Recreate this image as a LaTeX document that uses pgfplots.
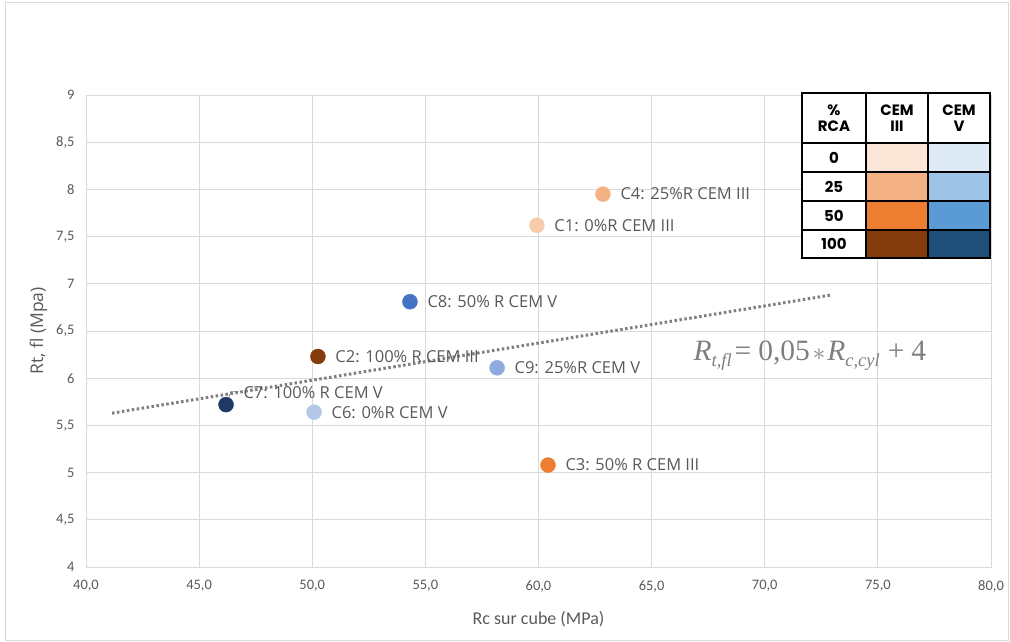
\documentclass[border=0pt]{standalone}
\usepackage{pgfplots}
\pgfplotsset{compat=1.18}
\usepackage{fontspec}
\setmainfont{Open Sans}
\newfontfamily\carlito{Carlito}
\newfontfamily\poppins{Poppins}
\newfontfamily\formfont{Liberation Serif}
\definecolor{txtgray}{HTML}{595959}
\definecolor{gridgray}{HTML}{D9D9D9}
\definecolor{trendgray}{HTML}{7F7F7F}
\definecolor{oA}{HTML}{F8CBAD}
\definecolor{oB}{HTML}{F4B183}
\definecolor{oC}{HTML}{ED7D31}
\definecolor{oD}{HTML}{843C0C}
\definecolor{bA}{HTML}{B4C7E7}
\definecolor{bB}{HTML}{8FAADC}
\definecolor{bC}{HTML}{4472C4}
\definecolor{bD}{HTML}{203864}
\definecolor{tA}{HTML}{FBE5D6}
\definecolor{tB}{HTML}{F4B183}
\definecolor{tC}{HTML}{ED7D31}
\definecolor{tD}{HTML}{843C0C}
\definecolor{uA}{HTML}{DEEBF7}
\definecolor{uB}{HTML}{9DC3E6}
\definecolor{uC}{HTML}{5B9BD5}
\definecolor{uD}{HTML}{1F4E79}
\newcommand{\labfont}{\fontsize{16.5}{16.5}\selectfont}
\newcommand{\sub}[1]{\raisebox{-0.22em}{\fontsize{18.5}{18.5}\selectfont\itshape #1}}
\pgfplotsset{
  pt/.style n args={2}{only marks, mark=*, mark size=7.5pt, color=#1,
    mark options={draw=none, fill=#1},
    nodes near coords={#2},
    every node near coord/.style={anchor=west, xshift=14pt, text=txtgray, font=\labfont}},
}
\begin{document}
\begin{tikzpicture}
\useasboundingbox (-86pt,-74pt) rectangle (924pt,567pt);
\draw[gridgray, line width=0.8pt] (-80.5pt,-73pt) rectangle (922.5pt,565pt);
\begin{axis}[
  at={(0pt,0pt)}, anchor=south west,
  scale only axis, width=905pt, height=472pt,
  xmin=40, xmax=80, ymin=4, ymax=9,
  xtick={40,45,...,80}, ytick={4,4.5,...,9},
  grid=major, major grid style={gridgray, line width=0.8pt},
  axis line style={gridgray, line width=0.8pt},
  major tick length=0pt,
  /pgf/number format/assume math mode=true,
  xticklabel style={/pgf/number format/fixed, /pgf/number format/fixed zerofill, /pgf/number format/precision=1, /pgf/number format/use comma, yshift=-10pt},
  yticklabel style={/pgf/number format/fixed, /pgf/number format/precision=1, /pgf/number format/use comma, xshift=-8pt},
  tick label style={font=\carlito\fontsize{14.5}{14.5}\selectfont, text=txtgray},
  xlabel={\carlito\fontsize{18}{18}\selectfont Rc sur cube (MPa)},
  ylabel={\fontsize{17.5}{17.5}\selectfont Rt, fl (Mpa)},
  xlabel style={text=txtgray, yshift=-12pt},
  ylabel style={text=txtgray, yshift=2pt},
  clip=false,
]
% trendline
\addplot[trendgray, line width=3pt, dash pattern=on 2.5pt off 2.5pt] coordinates {(41.15,5.63) (72.9,6.88)};
\addplot[pt={oB}{C4: 25\%R CEM III}] coordinates {(62.85,7.95)};
\addplot[pt={oA}{C1: 0\%R CEM III}] coordinates {(59.93,7.62)};
\addplot[pt={bC}{C8: 50\% R CEM V}] coordinates {(54.32,6.81)};
\addplot[pt={oD}{C2: 100\% R CEM III}] coordinates {(50.25,6.23)};
\addplot[pt={bB}{C9: 25\%R CEM V}] coordinates {(58.17,6.11)};
\addplot[pt={bA}{C6: 0\%R CEM V}] coordinates {(50.08,5.64)};
\addplot[pt={oC}{C3: 50\% R CEM III}] coordinates {(60.42,5.08)};
\addplot[only marks, mark=*, mark size=7.5pt, color=bD, mark options={draw=none, fill=bD},
  nodes near coords={C7: 100\% R CEM V},
  every node near coord/.style={anchor=west, xshift=14pt, yshift=12pt, text=txtgray, font=\labfont}] coordinates {(46.19,5.72)};
\draw[trendgray, line width=0.6pt] (axis cs:46.3,5.78) -- (axis cs:46.4,5.86) -- (axis cs:46.75,5.86);
\node[anchor=west, text=trendgray, font=\formfont\fontsize{29.5}{29.5}\selectfont] at (axis cs:66.7,6.24) {{\itshape R}\sub{t,fl}\kern3pt=\kern7pt0,05\kern3pt$*$\kern2pt{\itshape R}\sub{c,cyl}\kern8pt+\kern7pt4};
\end{axis}
\begin{scope}[shift={(current axis.south west)}, x=1pt, y=1pt]
  \fill[white] (716,309) rectangle (780,474);
  \fill[white] (780,424) rectangle (904,474);
  \fill[tA] (780,395) rectangle (842,424);
  \fill[uA] (842,395) rectangle (904,424);
  \fill[tB] (780,366) rectangle (842,395);
  \fill[uB] (842,366) rectangle (904,395);
  \fill[tC] (780,337) rectangle (842,366);
  \fill[uC] (842,337) rectangle (904,366);
  \fill[tD] (780,309) rectangle (842,337);
  \fill[uD] (842,309) rectangle (904,337);
  \draw[black, line width=1.3pt] (716,309) rectangle (904,474);
  \draw[black, line width=1.3pt] (780,309) -- (780,474) (842,309) -- (842,474);
  \draw[black, line width=1.3pt] (716,424) -- (904,424) (716,395) -- (904,395) (716,366) -- (904,366) (716,337) -- (904,337);
  \begin{scope}[every node/.style={font=\poppins\bfseries\fontsize{15}{16}\selectfont, align=center, inner sep=0pt}]
  \node at (748,449) {\%\\RCA};
  \node at (811,449) {CEM\\III};
  \node at (873,449) {CEM\\V};
  \node at (748,409.5) {0};
  \node at (748,380.5) {25};
  \node at (748,351.5) {50};
  \node at (748,323) {100};
  \end{scope}
\end{scope}
\end{tikzpicture}
\end{document}
